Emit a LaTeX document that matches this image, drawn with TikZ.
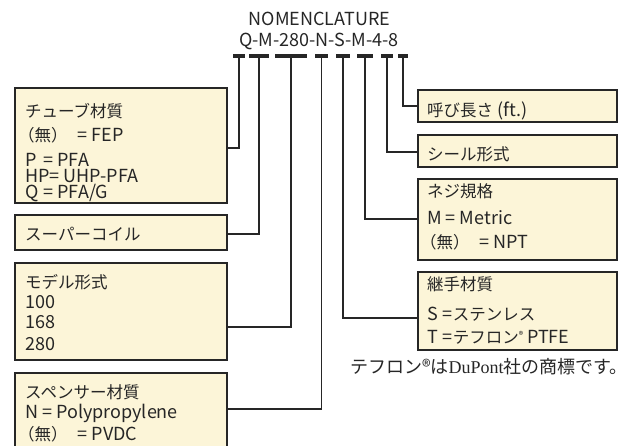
\documentclass[tikz,border=0pt]{standalone}
\usepackage{fontspec}
\setmainfont{Noto Sans CJK JP}
\newfontfamily\serifrm{Liberation Serif}
\newcommand\jp[1]{{\fontsize{16.5}{16.5}\selectfont #1}}
\newcommand\nonemark{\hspace*{-7pt}\jp{（無）}\hspace{10pt}}
\definecolor{boxfill}{HTML}{FCF5D8}
\definecolor{ink}{HTML}{262626}
\begin{document}
\begin{tikzpicture}[x=1pt,y=-1pt,
  box/.style={draw=ink, line width=1.3pt, fill=boxfill, anchor=north west, inner sep=0pt, outer sep=0pt},
  bar/.style={fill=ink, minimum height=4pt, inner sep=0pt, outer sep=0pt, anchor=north},
  conn/.style={line width=1.9pt, draw=ink},
  txt/.style={anchor=base west, inner sep=0pt, text=ink, font=\fontsize{18}{18}\selectfont},
  ttl/.style={anchor=base, inner sep=0pt, text=ink, font=\fontsize{18}{18}\selectfont},
]
\useasboundingbox (0,0) rectangle (627,445);
% title
\node[ttl] (title) at (319.5,25) {NOMENCLATURE};
\node[ttl] (code) at (319,46) {Q-M-280-N-S-M-4-8};
% bars
\node[bar, minimum width=12pt] (t1) at (239,54) {};
\node[bar, minimum width=20pt] (t2) at (259,54) {};
\node[bar, minimum width=32pt] (t3) at (291,54) {};
\node[bar, minimum width=13pt] (t4) at (321.5,54) {};
\node[bar, minimum width=14pt] (t5) at (343,54) {};
\node[bar, minimum width=16pt] (t6) at (365,54) {};
\node[bar, minimum width=12pt] (t7) at (387,54) {};
\node[bar, minimum width=10pt] (t8) at (403,54) {};
% left boxes
\node[box, minimum width=212pt, minimum height=115pt] (b1) at (15,88) {};
\node[box, minimum width=212pt, minimum height=35pt] (b2) at (15,215) {};
\node[box, minimum width=212pt, minimum height=97pt] (b3) at (15,263) {};
\node[box, minimum width=212pt, minimum height=95pt] (b4) at (15,373) {};
% right boxes
\node[box, minimum width=199pt, minimum height=32pt] (b8) at (418,90) {};
\node[box, minimum width=199pt, minimum height=32pt] (b7) at (418,135) {};
\node[box, minimum width=199pt, minimum height=81pt] (b6) at (418,179) {};
\node[box, minimum width=199pt, minimum height=78pt] (b5) at (418,272) {};
% joints
\coordinate (j1) at (239,148);
\coordinate (j2) at (259,234);
\coordinate (j3) at (291,327);
\coordinate (j4) at (321.5,409);
\coordinate (j5) at (343,318);
\coordinate (j6) at (365,219);
\coordinate (j7) at (387,152);
\coordinate (j8) at (403,106);
\draw[conn] (t1.south) -- (j1) -- (j1 -| b1.east);
\draw[conn] (t2.south) -- (j2) -- (j2 -| b2.east);
\draw[conn] (t3.south) -- (j3) -- (j3 -| b3.east);
\draw[conn] (t4.south) -- (j4) -- (j4 -| b4.east);
\draw[conn] (t5.south) -- (j5) -- (j5 -| b5.west);
\draw[conn] (t6.south) -- (j6) -- (j6 -| b6.west);
\draw[conn] (t7.south) -- (j7) -- (j7 -| b7.west);
\draw[conn] (t8.south) -- (j8) -- (j8 -| b8.west);
% box 1 text
\node[txt] (l11) at (25,117) {\jp{チューブ材質}};
\node[txt] (l12) at (25,141) {\nonemark= FEP};
\node[txt] (l13) at (25,166) {P\hspace{7pt}= PFA};
\node[txt] (l14) at (25,182) {HP= UHP-PFA};
\node[txt] (l15) at (25,198) {Q\hspace{5pt}= PFA/G};
% box 2
\node[txt] (l21) at (25,240) {\jp{スーパーコイル}};
% box 3
\node[txt] (l31) at (25,288) {\jp{モデル形式}};
\node[txt] (l32) at (25,308) {100};
\node[txt] (l33) at (25,328) {168};
\node[txt] (l34) at (25,350) {280};
% box 4
\node[txt] (l41) at (25,398) {\jp{スペンサー材質}};
\node[txt] (l42) at (25,418) {N = Polypropylene};
\node[txt] (l43) at (25,440) {\nonemark= PVDC};
% right boxes text
\node[txt] (r81) at (427,116) {\jp{呼び長さ} (ft.)};
\node[txt] (r71) at (427,160) {\jp{シール形式}};
\node[txt] (r61) at (427,197) {\jp{ネジ規格}};
\node[txt] (r62) at (427,224) {M = Metric};
\node[txt] (r63) at (427,248) {\nonemark= NPT};
\node[txt] (r51) at (427,290) {\jp{継手材質}};
\node[txt] (r52) at (427,320) {S\hspace{5pt}=\jp{ステンレス}};
\node[txt] (r53) at (427,343) {T\hspace{5pt}=\jp{テフロン}\raisebox{5pt}{\fontsize{9}{9}\selectfont ®} PTFE};
% footnote
\node[anchor=base west, inner sep=0pt, text=ink, font=\fontsize{18}{18}\selectfont] (note) at (350,373) {テフロン®は{\serifrm DuPont}社の商標です。};
\end{tikzpicture}
\end{document}
